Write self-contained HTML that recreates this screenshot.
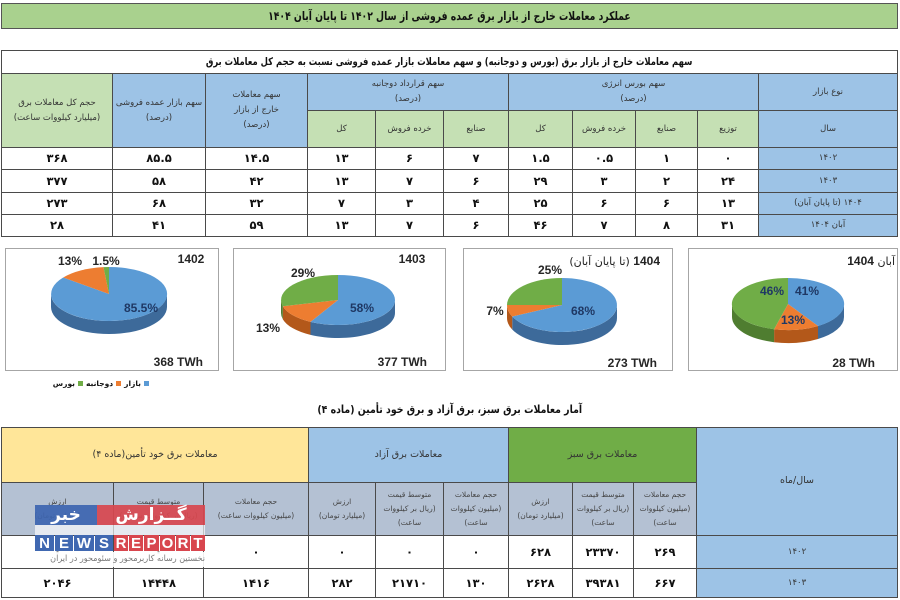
<!DOCTYPE html>
<html><head><meta charset="utf-8">
<style>
*{margin:0;padding:0;box-sizing:border-box}
html,body{width:900px;height:600px;overflow:hidden;background:#fff}
body{position:relative;font-family:"DejaVu Sans","Liberation Sans",sans-serif}
.c{position:absolute;border:1px solid #4a4a4a;display:flex;align-items:center;justify-content:center;text-align:center;direction:rtl;color:#333;font-size:8.5px;line-height:1.75;overflow:hidden}
.d{font-weight:bold;font-size:11.5px;color:#111;background:#fff}
.bl{background:#9dc3e6}
.gr{background:#c5e0b4}
.ye{background:#ffe699}
.gg{background:#70ad47}
.gb{background:#b4c1d3;font-size:7.5px;color:#444;line-height:1.9}
.t{position:absolute;direction:rtl;text-align:center;font-weight:bold;color:#111}
.wm{position:absolute;display:flex;align-items:center;justify-content:center;color:#fff;font-weight:bold}
.sx{display:inline-block;white-space:nowrap}
.sq{display:block;width:5px;height:5px;flex:0 0 5px}
</style></head><body>

<!-- Top title -->
<div class="c" style="left:1px;top:3px;width:897px;height:26px;background:#a9d18e;border-color:#555;font-weight:bold;font-size:12px;color:#111"><span class="sx" style="transform:scaleX(.77)">عملکرد  معاملات خارج از بازار برق عمده فروشی  از سال ۱۴۰۲ تا پایان آبان ۱۴۰۴</span></div>

<!-- Table 1 title -->
<div class="c" style="left:1px;top:50px;width:897px;height:24px;background:#fff;font-weight:bold;font-size:10.5px;color:#111"><span class="sx" style="transform:scaleX(.8)">سهم معاملات خارج از بازار برق (بورس و دوجانبه) و سهم معاملات بازار عمده فروشی نسبت به حجم کل معاملات برق</span></div>

<!-- Table 1 header -->
<div class="c gr" style="left:1px;top:73px;width:112px;height:75px">حجم کل معاملات برق<br>(میلیارد کیلووات ساعت)</div>
<div class="c bl" style="left:112px;top:73px;width:94px;height:75px">سهم بازار عمده فروشی<br>(درصد)</div>
<div class="c bl" style="left:205px;top:73px;width:103px;height:75px">سهم معاملات<br>خارج از بازار<br>(درصد)</div>
<div class="c bl" style="left:307px;top:73px;width:202px;height:38px">سهم قرارداد دوجانبه<br>(درصد)</div>
<div class="c gr" style="left:307px;top:110px;width:69px;height:38px">کل</div>
<div class="c gr" style="left:375px;top:110px;width:69px;height:38px">خرده فروش</div>
<div class="c gr" style="left:443px;top:110px;width:66px;height:38px">صنایع</div>
<div class="c bl" style="left:508px;top:73px;width:251px;height:38px">سهم بورس انرژی<br>(درصد)</div>
<div class="c gr" style="left:508px;top:110px;width:65px;height:38px">کل</div>
<div class="c gr" style="left:572px;top:110px;width:64px;height:38px">خرده فروش</div>
<div class="c gr" style="left:635px;top:110px;width:63px;height:38px">صنایع</div>
<div class="c gr" style="left:697px;top:110px;width:62px;height:38px">توزیع</div>
<div class="c bl" style="left:758px;top:73px;width:140px;height:38px">نوع بازار</div>
<div class="c bl" style="left:758px;top:110px;width:140px;height:38px">سال</div>

<!-- Table 1 rows -->
<div class="c d" style="left:1px;top:147px;width:112px;height:23px">۳۶۸</div>
<div class="c d" style="left:112px;top:147px;width:94px;height:23px">۸۵.۵</div>
<div class="c d" style="left:205px;top:147px;width:103px;height:23px">۱۴.۵</div>
<div class="c d" style="left:307px;top:147px;width:69px;height:23px">۱۳</div>
<div class="c d" style="left:375px;top:147px;width:69px;height:23px">۶</div>
<div class="c d" style="left:443px;top:147px;width:66px;height:23px">۷</div>
<div class="c d" style="left:508px;top:147px;width:65px;height:23px">۱.۵</div>
<div class="c d" style="left:572px;top:147px;width:64px;height:23px">۰.۵</div>
<div class="c d" style="left:635px;top:147px;width:63px;height:23px">۱</div>
<div class="c d" style="left:697px;top:147px;width:62px;height:23px">۰</div>
<div class="c bl" style="left:758px;top:147px;width:140px;height:23px">۱۴۰۲</div>

<div class="c d" style="left:1px;top:169px;width:112px;height:24px">۳۷۷</div>
<div class="c d" style="left:112px;top:169px;width:94px;height:24px">۵۸</div>
<div class="c d" style="left:205px;top:169px;width:103px;height:24px">۴۲</div>
<div class="c d" style="left:307px;top:169px;width:69px;height:24px">۱۳</div>
<div class="c d" style="left:375px;top:169px;width:69px;height:24px">۷</div>
<div class="c d" style="left:443px;top:169px;width:66px;height:24px">۶</div>
<div class="c d" style="left:508px;top:169px;width:65px;height:24px">۲۹</div>
<div class="c d" style="left:572px;top:169px;width:64px;height:24px">۳</div>
<div class="c d" style="left:635px;top:169px;width:63px;height:24px">۲</div>
<div class="c d" style="left:697px;top:169px;width:62px;height:24px">۲۴</div>
<div class="c bl" style="left:758px;top:169px;width:140px;height:24px">۱۴۰۳</div>

<div class="c d" style="left:1px;top:192px;width:112px;height:23px">۲۷۳</div>
<div class="c d" style="left:112px;top:192px;width:94px;height:23px">۶۸</div>
<div class="c d" style="left:205px;top:192px;width:103px;height:23px">۳۲</div>
<div class="c d" style="left:307px;top:192px;width:69px;height:23px">۷</div>
<div class="c d" style="left:375px;top:192px;width:69px;height:23px">۳</div>
<div class="c d" style="left:443px;top:192px;width:66px;height:23px">۴</div>
<div class="c d" style="left:508px;top:192px;width:65px;height:23px">۲۵</div>
<div class="c d" style="left:572px;top:192px;width:64px;height:23px">۶</div>
<div class="c d" style="left:635px;top:192px;width:63px;height:23px">۶</div>
<div class="c d" style="left:697px;top:192px;width:62px;height:23px">۱۳</div>
<div class="c bl" style="left:758px;top:192px;width:140px;height:23px">۱۴۰۴ (تا پایان آبان)</div>

<div class="c d" style="left:1px;top:214px;width:112px;height:23px">۲۸</div>
<div class="c d" style="left:112px;top:214px;width:94px;height:23px">۴۱</div>
<div class="c d" style="left:205px;top:214px;width:103px;height:23px">۵۹</div>
<div class="c d" style="left:307px;top:214px;width:69px;height:23px">۱۳</div>
<div class="c d" style="left:375px;top:214px;width:69px;height:23px">۷</div>
<div class="c d" style="left:443px;top:214px;width:66px;height:23px">۶</div>
<div class="c d" style="left:508px;top:214px;width:65px;height:23px">۴۶</div>
<div class="c d" style="left:572px;top:214px;width:64px;height:23px">۷</div>
<div class="c d" style="left:635px;top:214px;width:63px;height:23px">۸</div>
<div class="c d" style="left:697px;top:214px;width:62px;height:23px">۳۱</div>
<div class="c bl" style="left:758px;top:214px;width:140px;height:23px">آبان ۱۴۰۴</div>

<!-- Pie charts -->
<svg style="position:absolute;left:0;top:0" width="900" height="600" viewBox="0 0 900 600">
  <g fill="#fff" stroke="#a6a6a6" stroke-width="1">
    <rect x="5.5" y="248.5" width="213" height="122"/>
    <rect x="233.5" y="248.5" width="212" height="122"/>
    <rect x="463.5" y="248.5" width="209" height="122"/>
    <rect x="688.5" y="248.5" width="209" height="122"/>
  </g>
  <!-- Pie 1 -->
  <path d="M167,294 A58,27 0 0,1 51,294 L51,307 A58,27 0 0,0 167,307 Z" fill="#3d6a9a"/>
  <path d="M109,294 L109,267 A58,27 0 1,1 63.2,277.5 Z" fill="#5b9bd5"/>
  <path d="M109,294 L63.2,277.5 A58,27 0 0,1 103.5,267.1 Z" fill="#ed7d31"/>
  <path d="M109,294 L103.5,267.1 A58,27 0 0,1 109,267 Z" fill="#70ad47"/>
  <!-- Pie 2 -->
  <path d="M395,300 A57,25 0 0,1 310.5,321.9 L310.5,334.9 A57,25 0 0,0 395,313 Z" fill="#3d6a9a"/>
  <path d="M310.5,321.9 A57,25 0 0,1 282.8,306.2 L282.8,319.2 A57,25 0 0,0 310.5,334.9 Z" fill="#b3581a"/>
  <path d="M282.8,306.2 A57,25 0 0,1 281,300 L281,313 A57,25 0 0,0 282.8,319.2 Z" fill="#4f7d30"/>
  <path d="M338,300 L338,275 A57,25 0 1,1 310.5,321.9 Z" fill="#5b9bd5"/>
  <path d="M338,300 L310.5,321.9 A57,25 0 0,1 282.8,306.2 Z" fill="#ed7d31"/>
  <path d="M338,300 L282.8,306.2 A57,25 0 0,1 338,275 Z" fill="#70ad47"/>
  <!-- Pie 3 -->
  <path d="M617,305 A55,27 0 0,1 512.2,316.5 L512.2,329.5 A55,27 0 0,0 617,318 Z" fill="#3d6a9a"/>
  <path d="M512.2,316.5 A55,27 0 0,1 507,305 L507,318 A55,27 0 0,0 512.2,329.5 Z" fill="#b3581a"/>
  <path d="M562,305 L562,278 A55,27 0 1,1 512.2,316.5 Z" fill="#5b9bd5"/>
  <path d="M562,305 L512.2,316.5 A55,27 0 0,1 507,305 Z" fill="#ed7d31"/>
  <path d="M562,305 L507,305 A55,27 0 0,1 562,278 Z" fill="#70ad47"/>
  <!-- Pie 4 -->
  <path d="M844,304 A56,26 0 0,1 818,326 L818,339 A56,26 0 0,0 844,317 Z" fill="#3d6a9a"/>
  <path d="M818,326 A56,26 0 0,1 774.1,329.2 L774.1,342.2 A56,26 0 0,0 818,339 Z" fill="#b3581a"/>
  <path d="M774.1,329.2 A56,26 0 0,1 732,304 L732,317 A56,26 0 0,0 774.1,342.2 Z" fill="#4f7d30"/>
  <path d="M788,304 L788,278 A56,26 0 0,1 818,326 Z" fill="#5b9bd5"/>
  <path d="M788,304 L818,326 A56,26 0 0,1 774.1,329.2 Z" fill="#ed7d31"/>
  <path d="M788,304 L774.1,329.2 A56,26 0 0,1 788,278 Z" fill="#70ad47"/>

  <g font-family="Liberation Sans, DejaVu Sans, sans-serif" font-weight="bold" font-size="12" fill="#262626">
    <text x="70" y="265" text-anchor="middle">13%</text>
    <text x="106" y="265" text-anchor="middle">1.5%</text>
    <text x="191" y="263" text-anchor="middle">1402</text>
    <text x="141" y="312" text-anchor="middle" fill="#1f3864">85.5%</text>
    <text x="203" y="366" text-anchor="end">368 TWh</text>

    <text x="303" y="277" text-anchor="middle">29%</text>
    <text x="362" y="312" text-anchor="middle" fill="#1f3864">58%</text>
    <text x="268" y="332" text-anchor="middle">13%</text>
    <text x="412" y="263" text-anchor="middle">1403</text>
    <text x="427" y="366" text-anchor="end">377 TWh</text>

    <text x="550" y="274" text-anchor="middle">25%</text>
    <text x="495" y="315" text-anchor="middle">7%</text>
    <text x="583" y="315" text-anchor="middle" fill="#1f3864">68%</text>
    <text x="657" y="367" text-anchor="end">273 TWh</text>

    <text x="772" y="295" text-anchor="middle" fill="#1f3864">46%</text>
    <text x="807" y="295" text-anchor="middle" fill="#1f3864">41%</text>
    <text x="793" y="324" text-anchor="middle" fill="#1f3864">13%</text>
    <text x="875" y="367" text-anchor="end">28 TWh</text>
  </g>
</svg>

<!-- Pie titles with Persian -->
<div class="t" style="left:560px;top:254px;width:100px;font-size:11px;text-align:right;font-weight:normal;color:#222"><b style="font-family:'Liberation Sans',sans-serif;font-size:12px">1404</b> (تا پایان آبان)</div>
<div class="t" style="left:820px;top:254px;width:75px;font-size:11px;text-align:right;font-weight:normal;color:#222">آبان <b style="font-family:'Liberation Sans',sans-serif;font-size:12px">1404</b></div>

<!-- legend -->
<div style="position:absolute;left:56px;top:376px;width:93px;height:14px;display:flex;flex-direction:row-reverse;align-items:center;justify-content:flex-start;gap:3px;font-weight:bold;font-size:7.5px;color:#111;white-space:nowrap">
  <span class="sq" style="background:#5b9bd5"></span>
  <span>بازار</span>
  <span class="sq" style="background:#ed7d31"></span>
  <span>دوجانبه</span>
  <span class="sq" style="background:#70ad47"></span>
  <span>بورس</span>
</div>

<!-- Table 2 title -->
<div class="t" style="left:200px;top:403px;width:500px;font-size:11px"><span class="sx" style="transform:scaleX(.85)">آمار معاملات برق سبز، برق آزاد و برق خود تأمین (ماده ۴)</span></div>

<!-- Table 2 header -->
<div class="c ye" style="left:1px;top:427px;width:308px;height:56px;font-size:9.5px">معاملات برق خود تأمین(ماده ۴)</div>
<div class="c bl" style="left:308px;top:427px;width:201px;height:56px;font-size:9.5px">معاملات برق آزاد</div>
<div class="c gg" style="left:508px;top:427px;width:189px;height:56px;font-size:9.5px">معاملات برق سبز</div>
<div class="c bl" style="left:696px;top:427px;width:202px;height:109px;font-size:9.5px">سال/ماه</div>

<div class="c gb" style="left:1px;top:482px;width:113px;height:54px">ارزش<br>(میلیارد تومان)</div>
<div class="c gb" style="left:113px;top:482px;width:91px;height:54px">متوسط قیمت<br>(ریال بر کیلووات ساعت)</div>
<div class="c gb" style="left:203px;top:482px;width:106px;height:54px">حجم معاملات<br>(میلیون کیلووات ساعت)</div>
<div class="c gb" style="left:308px;top:482px;width:68px;height:54px">ارزش<br>(میلیارد تومان)</div>
<div class="c gb" style="left:375px;top:482px;width:69px;height:54px">متوسط قیمت<br>(ریال بر کیلووات<br>ساعت)</div>
<div class="c gb" style="left:443px;top:482px;width:66px;height:54px">حجم معاملات<br>(میلیون کیلووات<br>ساعت)</div>
<div class="c gb" style="left:508px;top:482px;width:65px;height:54px">ارزش<br>(میلیارد تومان)</div>
<div class="c gb" style="left:572px;top:482px;width:62px;height:54px">متوسط قیمت<br>(ریال بر کیلووات<br>ساعت)</div>
<div class="c gb" style="left:633px;top:482px;width:64px;height:54px">حجم معاملات<br>(میلیون کیلووات<br>ساعت)</div>

<!-- Table 2 rows -->
<div class="c d" style="left:1px;top:535px;width:113px;height:34px">۰</div>
<div class="c d" style="left:113px;top:535px;width:91px;height:34px">۰</div>
<div class="c d" style="left:203px;top:535px;width:106px;height:34px">۰</div>
<div class="c d" style="left:308px;top:535px;width:68px;height:34px">۰</div>
<div class="c d" style="left:375px;top:535px;width:69px;height:34px">۰</div>
<div class="c d" style="left:443px;top:535px;width:66px;height:34px">۰</div>
<div class="c d" style="left:508px;top:535px;width:65px;height:34px">۶۲۸</div>
<div class="c d" style="left:572px;top:535px;width:62px;height:34px">۲۳۳۷۰</div>
<div class="c d" style="left:633px;top:535px;width:64px;height:34px">۲۶۹</div>
<div class="c bl" style="left:696px;top:535px;width:202px;height:34px">۱۴۰۲</div>

<div class="c d" style="left:1px;top:568px;width:113px;height:30px">۲۰۴۶</div>
<div class="c d" style="left:113px;top:568px;width:91px;height:30px">۱۴۴۴۸</div>
<div class="c d" style="left:203px;top:568px;width:106px;height:30px">۱۴۱۶</div>
<div class="c d" style="left:308px;top:568px;width:68px;height:30px">۲۸۲</div>
<div class="c d" style="left:375px;top:568px;width:69px;height:30px">۲۱۷۱۰</div>
<div class="c d" style="left:443px;top:568px;width:66px;height:30px">۱۳۰</div>
<div class="c d" style="left:508px;top:568px;width:65px;height:30px">۲۶۲۸</div>
<div class="c d" style="left:572px;top:568px;width:62px;height:30px">۳۹۳۸۱</div>
<div class="c d" style="left:633px;top:568px;width:64px;height:30px">۶۶۷</div>
<div class="c bl" style="left:696px;top:568px;width:202px;height:30px">۱۴۰۳</div>

<!-- Watermark -->
<div class="wm" style="left:35px;top:505px;width:62px;height:20px;background:rgba(61,101,176,.92);font-size:17px;direction:rtl">خبر</div>
<div class="wm" style="left:97px;top:505px;width:108px;height:20px;background:rgba(216,70,78,.92);font-size:17px;direction:rtl">گــزارش</div>
<div style="position:absolute;left:35px;top:525px;width:170px;height:10px;background:rgba(255,255,255,.65)"></div>
<div class="wm" style="left:35px;top:535px;width:19px;height:16px;background:#4068b1;font-family:'Liberation Sans',sans-serif;font-size:15px">N</div>
<div class="wm" style="left:55px;top:535px;width:18px;height:16px;background:#4068b1;font-family:'Liberation Sans',sans-serif;font-size:15px">E</div>
<div class="wm" style="left:74px;top:535px;width:20px;height:16px;background:#4068b1;font-family:'Liberation Sans',sans-serif;font-size:15px">W</div>
<div class="wm" style="left:95px;top:535px;width:18px;height:16px;background:#4068b1;font-family:'Liberation Sans',sans-serif;font-size:15px">S</div>
<div class="wm" style="left:114px;top:535px;width:14px;height:16px;background:#d8464e;font-family:'Liberation Sans',sans-serif;font-size:15px">R</div>
<div class="wm" style="left:129px;top:535px;width:14px;height:16px;background:#d8464e;font-family:'Liberation Sans',sans-serif;font-size:15px">E</div>
<div class="wm" style="left:144px;top:535px;width:15px;height:16px;background:#d8464e;font-family:'Liberation Sans',sans-serif;font-size:15px">P</div>
<div class="wm" style="left:160px;top:535px;width:15px;height:16px;background:#d8464e;font-family:'Liberation Sans',sans-serif;font-size:15px">O</div>
<div class="wm" style="left:176px;top:535px;width:14px;height:16px;background:#d8464e;font-family:'Liberation Sans',sans-serif;font-size:15px">R</div>
<div class="wm" style="left:191px;top:535px;width:14px;height:16px;background:#d8464e;font-family:'Liberation Sans',sans-serif;font-size:15px">T</div>
<div style="position:absolute;left:35px;top:552px;width:170px;height:15px;background:rgba(255,255,255,.9);direction:rtl;text-align:right;font-size:8.5px;color:#777;line-height:15px;white-space:nowrap;overflow:hidden"><span class="sx" style="transform:scaleX(.95);transform-origin:right center">نخستین رسانه کاربرمحور و سئومحور در ایران</span></div>

</body></html>
